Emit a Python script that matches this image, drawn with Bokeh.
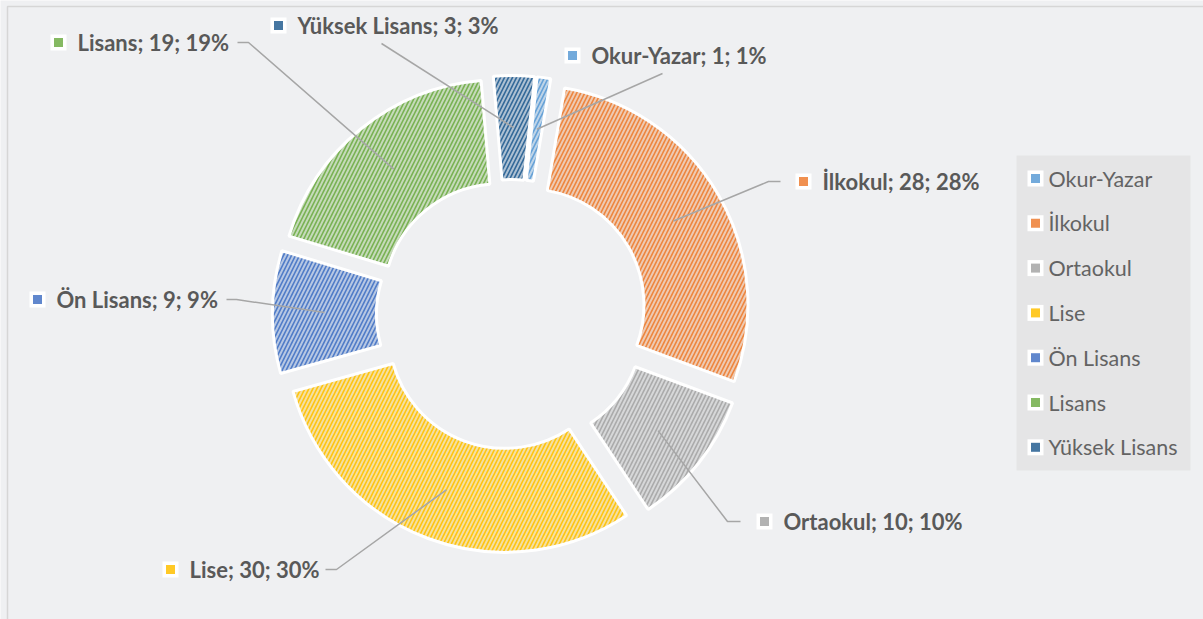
import math
from bokeh.plotting import figure
from bokeh.models import Range1d, ColumnDataSource
from bokeh.core.properties import value
from bokeh.embed import file_html
from bokeh.resources import INLINE

# ---------------- data ----------------
categories = ["Okur-Yazar", "İlkokul", "Ortaokul", "Lise", "Ön Lisans", "Lisans", "Yüksek Lisans"]
counts = [1, 28, 10, 30, 9, 19, 3]
colors = ["#5B9BD5", "#ED7D31", "#A5A5A5", "#FFC000", "#4472C4", "#70AD47", "#255E91"]

# ---------------- layout ----------------
W, H = 1203, 619
BG = "#eff0f2"
TXT = "#595959"
CX, CY = 511, H - 314
R_OUT, R_IN, EXPLODE = 220, 116, 19
ROT = 6  # first slice angle (deg, clockwise)
ANCHOR_R = EXPLODE + (R_OUT + R_IN) / 2

# data label marker centres (screen px) and leader start/elbow (screen px)
lab_mx = [572, 803, 764, 170, 37, 58, 278]
lab_my = [55, 181, 521, 569, 299, 42, 25]
lead_start = [(662, 73), (780, 181), (740, 521), (325, 569), (226, 299), (237, 42), (381, 43)]
lead_elbow = [None, (768, 181), (727, 521), (336, 569), (236, 299), (248, 42), None]

total = sum(counts)
pcts = [round(100 * c / total) for c in counts]

start, end, ox, oy, ax, ay = [], [], [], [], [], []
cum = 0
for c in counts:
    a0 = 90 - ROT - 360 * cum / total
    cum += c
    a1 = 90 - ROT - 360 * cum / total
    mid = math.radians((a0 + a1) / 2)
    start.append(math.radians(a1))
    end.append(math.radians(a0))
    ox.append(CX + EXPLODE * math.cos(mid))
    oy.append(CY + EXPLODE * math.sin(mid))
    ax.append(CX + ANCHOR_R * math.cos(mid))
    ay.append(CY + ANCHOR_R * math.sin(mid))

src = ColumnDataSource(dict(x=ox, y=oy, start=start, end=end, color=colors, cat=categories))

p = figure(width=W, height=H, x_range=Range1d(0, W), y_range=Range1d(0, H),
           output_backend="svg", toolbar_location=None,
           x_axis_type=None, y_axis_type=None, min_border=0,
           background_fill_color=BG, border_fill_color=BG, outline_line_color=None)
p.grid.visible = False

# chart frame
p.quad(left=[7], right=[W + 5], bottom=[-5], top=[H - 6], fill_color=None,
       line_color="#d6d6d6", line_width=1.5)

# slices
p.annular_wedge(x="x", y="y", inner_radius=R_IN, outer_radius=R_OUT,
                start_angle="start", end_angle="end", source=src,
                fill_color="color", fill_alpha=0.33,
                hatch_pattern="/", hatch_color="color", hatch_scale=8,
                hatch_weight=1.6, hatch_alpha=0.9,
                line_color="white", line_width=3)

# leader lines
xs, ys = [], []
for i in range(len(categories)):
    sx, sy = lead_start[i]
    px, py = [sx], [H - sy]
    if lead_elbow[i] is not None:
        ex, ey = lead_elbow[i]
        px.append(ex)
        py.append(H - ey)
    px.append(ax[i])
    py.append(ay[i])
    xs.append(px)
    ys.append(py)
p.multi_line(xs=xs, ys=ys, line_color="#a6a6a6", line_width=1.5)

# data labels
lab_y = [H - v for v in lab_my]
p.scatter(x=lab_mx, y=lab_y, marker="square", size=16, fill_color="white", line_color=None)
p.scatter(x=lab_mx, y=lab_y, marker="square", size=9, fill_color=colors, line_color=None, fill_alpha=0.85)
labels = [f"{c}; {n}; {pc}%" for c, n, pc in zip(categories, counts, pcts)]
p.text(x=[m + 19 for m in lab_mx], y=lab_y, text=labels, text_font=value("Lato"),
       text_font_style="bold", text_font_size="22px", text_color=TXT,
       text_baseline="middle", text_align="left")

# legend
p.quad(left=[1016], right=[1190], bottom=[H - 470], top=[H - 155], fill_color="#e5e5e6", line_color=None)
leg_y = [H - (178 + 44.8 * i) for i in range(len(categories))]
leg_x = [1035] * len(categories)
p.scatter(x=leg_x, y=leg_y, marker="square", size=16, fill_color="white", line_color=None)
p.scatter(x=leg_x, y=leg_y, marker="square", size=9, fill_color=colors, line_color=None, fill_alpha=0.85)
p.text(x=[1048] * len(categories), y=leg_y, text=categories, text_font=value("Lato"),
       text_font_size="21.5px", text_color="#636363", text_baseline="middle", text_align="left")

open("out.html", "w").write(file_html(p, INLINE))
